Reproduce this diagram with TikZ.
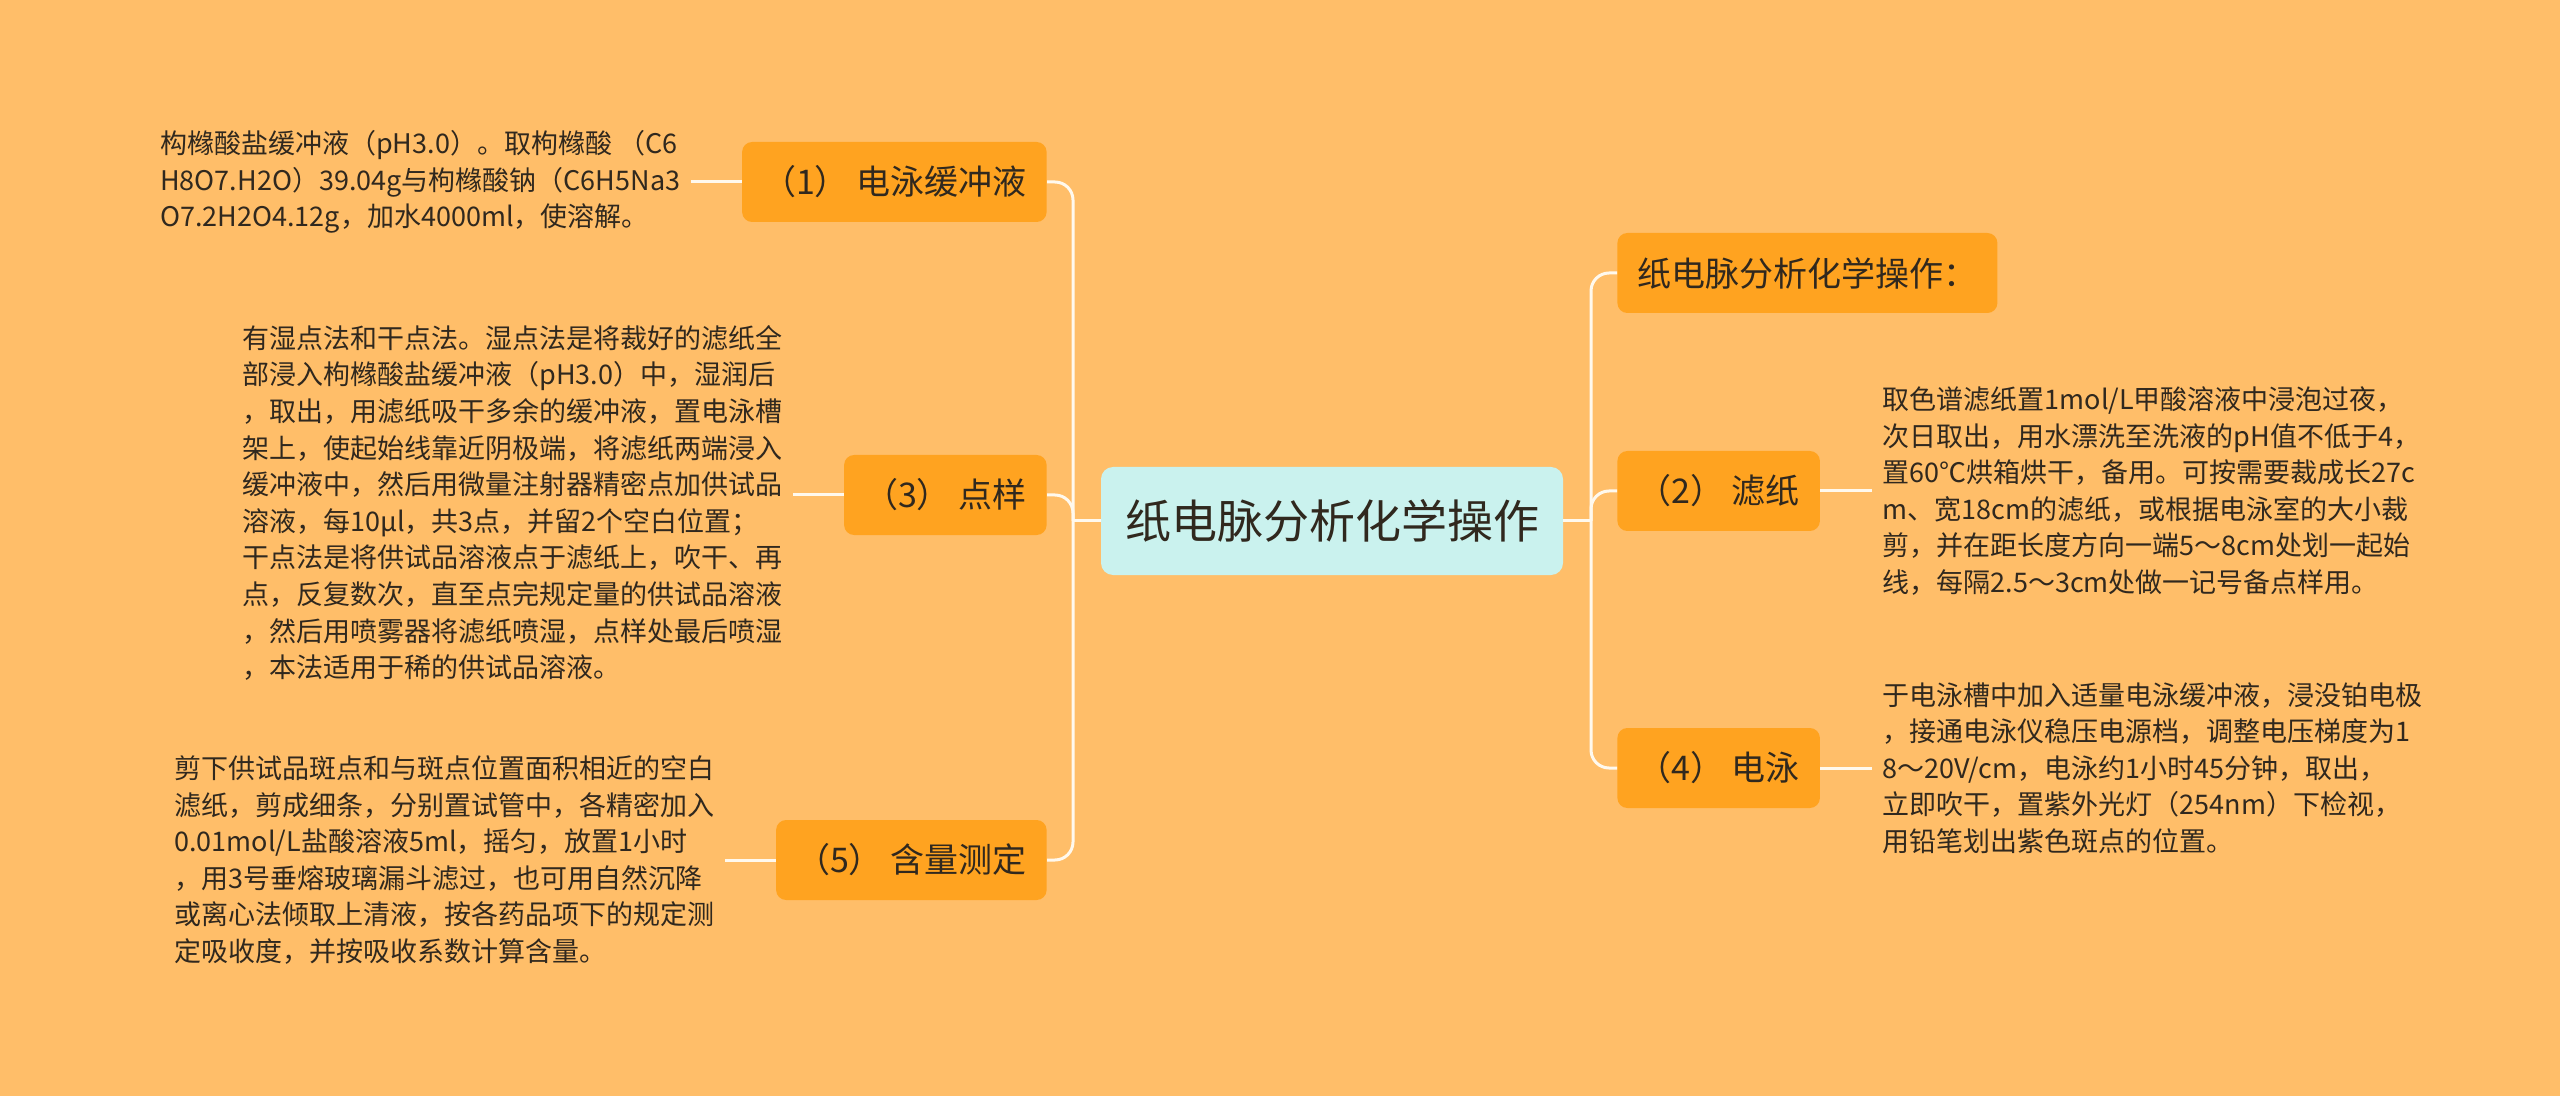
\documentclass[tikz,border=0pt]{standalone}
\usepackage{fontspec}
\setmainfont{Noto Sans CJK SC}
\usetikzlibrary{positioning}

\definecolor{bgcol}{RGB}{255,190,105}
\definecolor{boxcol}{RGB}{255,163,32}
\definecolor{maincol}{RGB}{202,242,238}
\definecolor{linecol}{RGB}{255,249,238}
\definecolor{txtcol}{RGB}{48,40,30}

\tikzset{
  branch/.style={fill=boxcol, rounded corners=5pt, minimum height=40pt,
    inner xsep=10pt, text=txtcol, font=\fontsize{17}{20}\selectfont},
  leaf/.style={align=left, inner sep=5pt, text=txtcol,
    font=\fontsize{13.5}{18.3}\selectfont},
  link/.style={draw=linecol, line width=1.5pt, rounded corners=9pt}
}

\begin{document}
\begin{tikzpicture}[x=0.5pt, y=-0.5pt]
  \fill[bgcol] (0,0) rectangle (2560,1096);
  \useasboundingbox (0,0) rectangle (2560,1096);

  \node[fill=maincol, rounded corners=6pt, minimum height=54pt, inner xsep=12pt,
    text=txtcol, font=\fontsize{23}{26}\selectfont] (main) at (1332,521) {纸电脉分析化学操作};
  \coordinate (lj) at (1073,521);
  \coordinate (rj) at (1591,521);

  \node[branch, anchor=east] (b1) at (1047,182) {（1） 电泳缓冲液};
  \node[branch, anchor=east] (b3) at (1047,495) {（3） 点样};
  \node[branch, anchor=east] (b5) at (1047,860) {（5） 含量测定};
  \node[branch, anchor=west] (b0) at (1617,273) {纸电脉分析化学操作：};
  \node[branch, anchor=west] (b2) at (1617,491) {（2） 滤纸};
  \node[branch, anchor=west] (b4) at (1617,768) {（4） 电泳};

  \node[leaf, left=25.5pt of b1] (t1) {构橼酸盐缓冲液（pH3.0）。取枸橼酸 （C6\\
    H8O7.H2O）39.04g与枸橼酸钠（C6H5Na3\\
    O7.2H2O4.12g，加水4000ml，使溶解。};
  \node[leaf, left=25.5pt of b3, yshift=-4pt] (t3) {有湿点法和干点法。湿点法是将裁好的滤纸全\\
    部浸入枸橼酸盐缓冲液（pH3.0）中，湿润后\\
    ，取出，用滤纸吸干多余的缓冲液，置电泳槽\\
    架上，使起始线靠近阴极端，将滤纸两端浸入\\
    缓冲液中，然后用微量注射器精密点加供试品\\
    溶液，每10μl，共3点，并留2个空白位置；\\
    干点法是将供试品溶液点于滤纸上，吹干、再\\
    点，反复数次，直至点完规定量的供试品溶液\\
    ，然后用喷雾器将滤纸喷湿，点样处最后喷湿\\
    ，本法适用于稀的供试品溶液。};
  \node[leaf, left=25.5pt of b5] (t5) {剪下供试品斑点和与斑点位置面积相近的空白\\
    滤纸，剪成细条，分别置试管中，各精密加入\\
    0.01mol/L盐酸溶液5ml，摇匀，放置1小时\\
    ，用3号垂熔玻璃漏斗滤过，也可用自然沉降\\
    或离心法倾取上清液，按各药品项下的规定测\\
    定吸收度，并按吸收系数计算含量。};
  \node[leaf, right=26pt of b2] (t2) {取色谱滤纸置1mol/L甲酸溶液中浸泡过夜，\\
    次日取出，用水漂洗至洗液的pH值不低于4，\\
    置60℃烘箱烘干，备用。可按需要裁成长27c\\
    m、宽18cm的滤纸，或根据电泳室的大小裁\\
    剪，并在距长度方向一端5～8cm处划一起始\\
    线，每隔2.5～3cm处做一记号备点样用。};
  \node[leaf, right=26pt of b4] (t4) {于电泳槽中加入适量电泳缓冲液，浸没铂电极\\
    ，接通电泳仪稳压电源档，调整电压梯度为1\\
    8～20V/cm，电泳约1小时45分钟，取出，\\
    立即吹干，置紫外光灯（254nm）下检视，\\
    用铅笔划出紫色斑点的位置。};

  \draw[link] (main.west) -- (lj);
  \draw[link] (main.east) -- (rj);
  \foreach \b in {b1,b3,b5}
    \draw[link] (lj) |- (\b.east);
  \foreach \b in {b0,b2,b4}
    \draw[link] (rj) |- (\b.west);

  \draw[link] (b1) -- (t1);
  \draw[link] (b3) -- (t3.east |- b3);
  \draw[link] (b5) -- (t5);
  \draw[link] (b2) -- (t2);
  \draw[link] (b4) -- (t4);
\end{tikzpicture}
\end{document}
